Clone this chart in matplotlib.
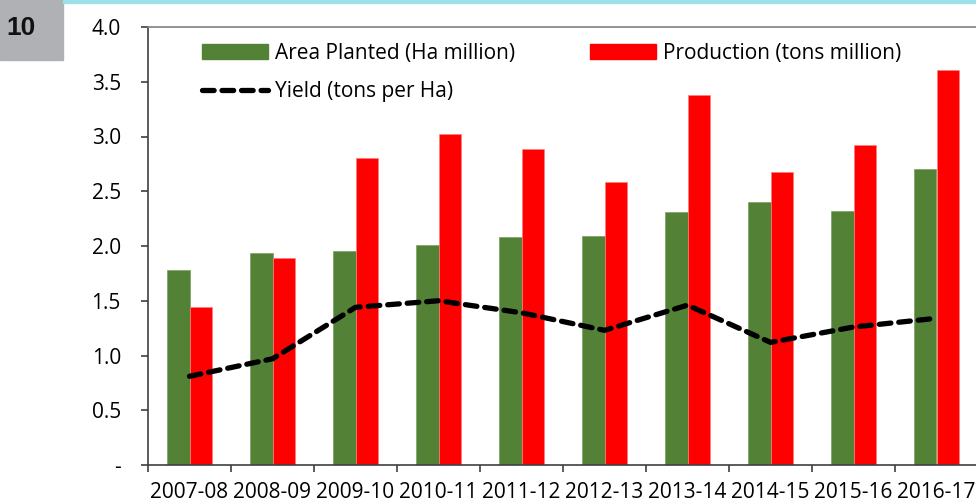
import numpy as np
import matplotlib.pyplot as plt
from matplotlib.lines import Line2D
from matplotlib.patches import Patch

plt.rcParams['font.family'] = ['Open Sans', 'DejaVu Sans']

# values
years = ['2007-08', '2008-09', '2009-10', '2010-11', '2011-12',
         '2012-13', '2013-14', '2014-15', '2015-16', '2016-17']
area = [1.78, 1.94, 1.95, 2.01, 2.08, 2.09, 2.31, 2.40, 2.32, 2.70]
production = [1.44, 1.89, 2.80, 3.02, 2.89, 2.58, 3.38, 2.68, 2.92, 3.61]
yield_ = [0.81, 0.97, 1.44, 1.50, 1.39, 1.23, 1.46, 1.12, 1.26, 1.34]
yticks = [0, 0.5, 1.0, 1.5, 2.0, 2.5, 3.0, 3.5, 4.0]
ytick_labels = ['-', '0.5', '1.0', '1.5', '2.0', '2.5', '3.0', '3.5', '4.0']

green = '#538135'
red = '#ff0000'
fs = 15

fig = plt.figure(figsize=(9.76, 5.03), dpi=100)
ax = fig.add_axes([148/976, 38/503, 830/976, 438/503])

x = np.arange(len(years))
w = 0.277
ax.bar(x - w/2, area, w, color=green, edgecolor='#7a9e62', linewidth=0.5)
ax.bar(x + w/2, production, w, color=red, edgecolor='#ff8080', linewidth=0.5)
dash = (0, (2.2, 1.5))
ax.plot(x, yield_, color='black', lw=3.8, linestyle=dash,
        dash_capstyle='round', solid_capstyle='round')

ax.set_xlim(-0.5, len(years) - 0.5)
ax.set_ylim(0, 4.0)
ax.set_yticks(yticks)
ax.set_yticklabels(ytick_labels)
ax.set_xticks(x)
ax.set_xticklabels(years)
ax.set_xticks(np.arange(len(years) + 1) - 0.5, minor=True)
ax.tick_params(axis='x', which='major', length=0, pad=12, labelsize=fs)
ax.tick_params(axis='x', which='minor', length=5, width=1.2, color='#404040')
ax.tick_params(axis='y', length=5, width=1.2, color='#404040', pad=14.5, labelsize=fs)

for s in ['left', 'bottom']:
    ax.spines[s].set_color('#404040')
    ax.spines[s].set_linewidth(1.2)
ax.spines['top'].set_color('#808080')
ax.spines['top'].set_linewidth(1.2)
ax.spines['right'].set_visible(False)

handles = [Patch(color=green, label='Area Planted (Ha million)'),
           Line2D([0], [0], color='black', lw=3.8, linestyle=dash,
                  dash_capstyle='round', label='Yield (tons per Ha)'),
           Patch(color=red, label='Production (tons million)')]
ax.legend(handles=handles, ncol=2, loc='upper left', bbox_to_anchor=(0.053, 0.988),
          frameon=False, fontsize=fs, handlelength=3.17, handleheight=0.7,
          handletextpad=0.33, columnspacing=3.6, labelspacing=0.85, borderpad=0)

# page header bits
fig.patches.append(plt.Rectangle((0, 443/503), 63/976, 60/503, color='#b0b1b5',
                                 transform=fig.transFigure, zorder=0))
fig.patches.append(plt.Rectangle((63/976, 500/503), 913/976, 3/503, color='#9ee0ea',
                                 transform=fig.transFigure, zorder=0))
fig.text(21/976, 475/503, '10', fontsize=19, fontweight='bold',
         family=['Liberation Sans', 'DejaVu Sans'],
         ha='center', va='center', color='#111111')

fig.savefig('out.png', dpi=100)
